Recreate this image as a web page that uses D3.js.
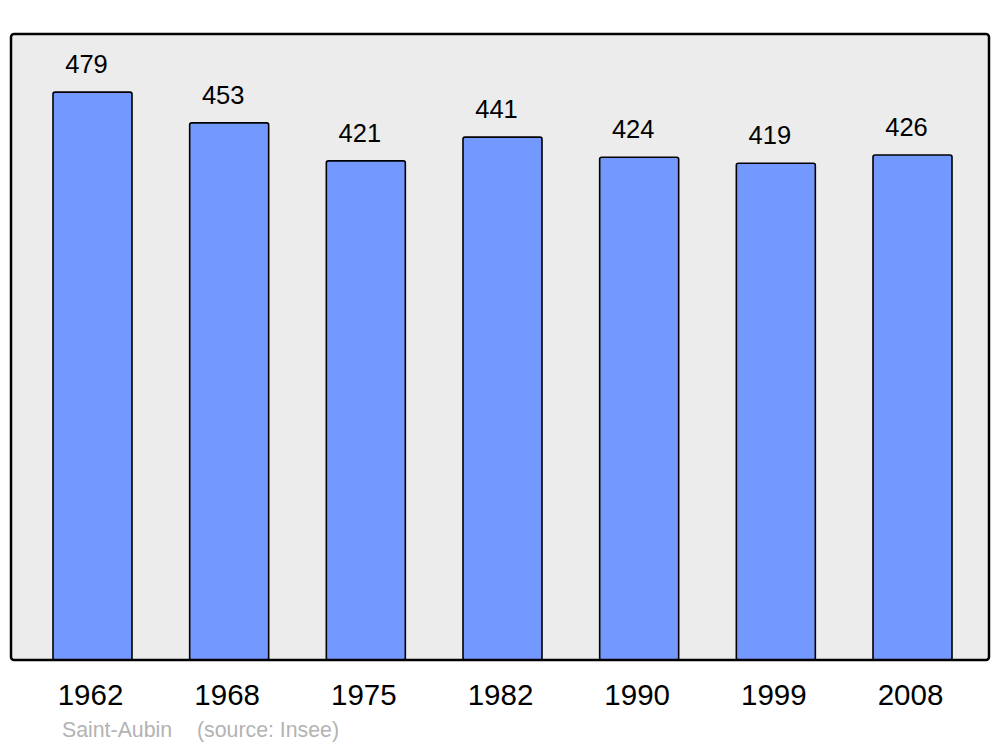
<!DOCTYPE html>
<html>
<head>
<meta charset="utf-8">
<script src="https://cdn.jsdelivr.net/npm/d3@7"></script>
<style>
  body { margin: 0; background: #fff; }
  text { font-family: "Liberation Sans", Arial, sans-serif; }
</style>
</head>
<body>
<div id="chart"></div>
<script>
var years = ["1962", "1968", "1975", "1982", "1990", "1999", "2008"];
var population = [479, 453, 421, 441, 424, 419, 426];
var commune = "Saint-Aubin";
var source = "(source: Insee)";

var width = 1000, height = 747;
var panel = { x: 11, y: 34, w: 978, h: 626 };

var svg = d3.select("#chart").append("svg")
  .attr("width", width)
  .attr("height", height);

var x = d3.scaleBand()
  .domain(years)
  .range([12, 993])
  .paddingInner(0.422)
  .paddingOuter(0.3);

var y = d3.scaleLinear()
  .domain([0, 528])
  .range([panel.y + panel.h, panel.y]);

// background panel
svg.append("rect")
  .attr("x", panel.x)
  .attr("y", panel.y)
  .attr("width", panel.w)
  .attr("height", panel.h)
  .attr("rx", 3)
  .attr("fill", "#ececec");

var data = years.map(function(yr, i) { return { year: yr, value: population[i] }; });

svg.selectAll("rect.bar")
  .data(data)
  .enter().append("rect")
  .attr("class", "bar")
  .attr("x", function(d) { return x(d.year); })
  .attr("y", function(d) { return y(d.value); })
  .attr("width", x.bandwidth())
  .attr("height", function(d) { return y(0) - y(d.value); })
  .attr("rx", 2)
  .attr("fill", "#7399ff")
  .attr("stroke", "#000")
  .attr("stroke-width", 1.6);

// value labels
svg.selectAll("text.val")
  .data(data)
  .enter().append("text")
  .attr("class", "val")
  .attr("x", function(d) { return x(d.year) + x.bandwidth() / 2 - 6; })
  .attr("y", function(d) { return y(d.value) - 19; })
  .attr("text-anchor", "middle")
  .attr("font-size", 25.5)
  .attr("fill", "#000")
  .text(function(d) { return d.value; });

// panel border on top
svg.append("rect")
  .attr("x", panel.x)
  .attr("y", panel.y)
  .attr("width", panel.w)
  .attr("height", panel.h)
  .attr("rx", 3)
  .attr("fill", "none")
  .attr("stroke", "#000")
  .attr("stroke-width", 2.5);

// year labels
svg.selectAll("text.year")
  .data(years)
  .enter().append("text")
  .attr("class", "year")
  .attr("x", function(d) { return x(d) + x.bandwidth() / 2 - 2; })
  .attr("y", 705)
  .attr("text-anchor", "middle")
  .attr("font-size", 29.5)
  .attr("fill", "#000")
  .text(function(d) { return d; });

// footer
svg.append("text")
  .attr("x", 62)
  .attr("y", 737)
  .attr("font-size", 21.3)
  .attr("fill", "#b3b3b3")
  .text(commune);

svg.append("text")
  .attr("x", 197)
  .attr("y", 737)
  .attr("font-size", 21.3)
  .attr("fill", "#b3b3b3")
  .text(source);
</script>
</body>
</html>
